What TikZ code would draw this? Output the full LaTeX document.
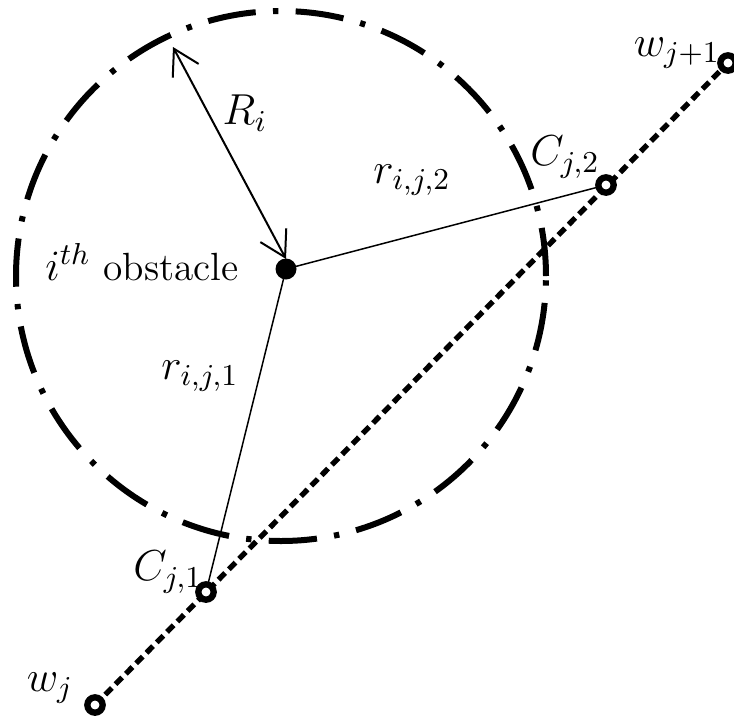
\documentclass[tikz,border=0pt]{standalone}
\usepackage{fix-cm}
\usetikzlibrary{arrows.meta}
\tikzset{
  obst/.style={line width=1.8pt, dash pattern=on 14.5pt off 5.2pt on 1.6pt off 5.2pt},
  wpath/.style={line width=1.6pt, dash pattern=on 2.8pt off 1.6pt},
  thinln/.style={line width=0.45pt},
  radarrow/.style={line width=0.6pt, {Straight Barb[length=7.5pt,width=8.8pt,line width=0.6pt]}-{Straight Barb[length=7.5pt,width=8.8pt,line width=0.6pt]}},
  wp/.style={circle, draw, fill=white, line width=1.9pt, minimum size=4.6pt, inner sep=0pt},
  ctr/.style={circle, fill=black, minimum size=6.3pt, inner sep=0pt},
  lab/.style={font=\fontsize{13}{15}\selectfont, inner sep=0pt},
}
\begin{document}
\begin{tikzpicture}[x=0.3pt,y=-0.3pt]
\useasboundingbox (0,0) rectangle (734,717);
% obstacle circle
\coordinate (cc) at (281,276);
\draw[obst] (cc) circle[radius=79.5pt];
% points
\node[ctr] (O) at (286,269) {};
\coordinate (Rtip) at (173,47);
\coordinate (Rend) at (286,259);
\draw[thinln] (O.center) -- (206,592);
\draw[thinln] (O.center) -- (606,185);
\draw[radarrow] (Rtip) -- (Rend);
\coordinate (wj) at (95,705);
\coordinate (wj1) at (728,63);
\draw[wpath] (wj) -- (wj1);
\node[wp] (C1) at (206,592) {};
\node[wp] (C2) at (606,185) {};
\node[wp] (W1) at (wj) {};
\node[wp] (W2) at (wj1) {};
% labels
\node[lab] (lR) at (245,113) {$R_i$};
\node[lab] (lr2) at (412,180) {$r_{i,j,2}$};
\node[lab] (lr1) at (200,376) {$r_{i,j,1}$};
\node[lab] (lC2) at (565,157) {$C_{j,2}$};
\node[lab] (lC1) at (168,572) {$C_{j,1}$};
\node[lab] (lw2) at (677,53) {$w_{j+1}$};
\node[lab] (lw1) at (50,688) {$w_j$};
\node[font=\fontsize{11.8}{14}\selectfont, inner sep=0pt] (lobs) at (142,262) {\fontsize{13}{15}\selectfont$i^{th}$\fontsize{11.8}{14}\selectfont{} obstacle};
\end{tikzpicture}
\end{document}
